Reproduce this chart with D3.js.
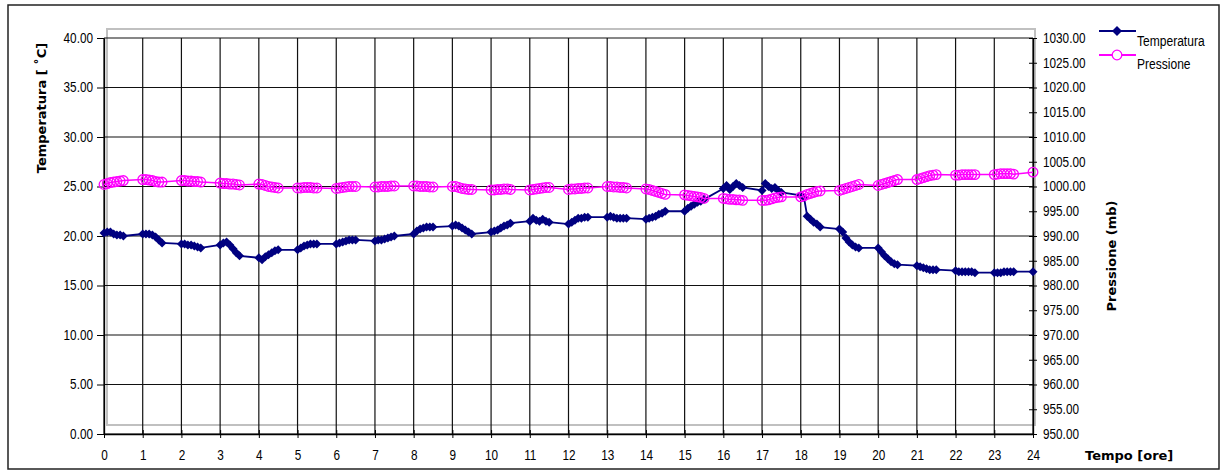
<!DOCTYPE html>
<html>
<head>
<meta charset="utf-8">
<script src="https://cdn.jsdelivr.net/npm/d3@7"></script>
<style>
  html, body { margin: 0; padding: 0; background: #fff; }
  svg { display: block; }
  .tick text { font-family: "Liberation Sans", Arial, sans-serif; font-size: 14px; fill: #000; }
  .legend text { font-family: "Liberation Sans", Arial, sans-serif; font-size: 14px; fill: #000; }
  .title { font-family: "DejaVu Sans", Verdana, sans-serif; font-weight: bold; font-size: 13px; fill: #000; }
</style>
</head>
<body>
<svg id="chart" width="1223" height="476"></svg>
<script>
// ---------------- DATA ----------------
const hourTicks = [0,1,2,3,4,5,6,7,8,9,10,11,12,13,14,15,16,17,18,19,20,21,22,23,24];
const tempTicks = [0,5,10,15,20,25,30,35,40];
const pressTicks = [950,955,960,965,970,975,980,985,990,995,1000,1005,1010,1015,1020,1025,1030];
// sampling minutes inside each hourly block
const sampleMinutes = [0,5,10,15,20,25,30];

// Temperatura [°C], one block per hour (last block = hour 24)
const temperatura = [
  [20.3,20.4,20.4,20.2,20.1,20.1,20.0],
  [20.2,20.2,20.2,20.1,19.9,19.6,19.3],
  [19.2,19.2,19.1,19.1,19.0,18.9,18.8],
  [19.1,19.3,19.4,19.1,18.7,18.3,18.0],
  [17.8,17.6,17.9,18.1,18.3,18.5,18.6],
  [18.6,18.8,19.0,19.1,19.2,19.2,19.2],
  [19.2,19.3,19.4,19.5,19.6,19.6,19.6],
  [19.5,19.6,19.6,19.7,19.8,19.9,20.0],
  [20.2,20.5,20.7,20.8,20.9,20.9,20.9],
  [21.0,21.1,21.0,20.8,20.6,20.4,20.2],
  [20.4,20.5,20.6,20.8,21.0,21.1,21.3],
  [21.5,21.8,21.6,21.5,21.7,21.5,21.4],
  [21.2,21.4,21.6,21.8,21.8,21.9,21.9],
  [21.9,22.0,21.9,21.8,21.8,21.8,21.8],
  [21.7,21.8,21.9,22.0,22.2,22.3,22.5],
  [22.5,22.8,23.0,23.2,23.4,23.5,23.7],
  [24.8,25.1,24.7,25.0,25.3,25.1,24.9],
  [24.6,25.3,25.0,24.8,24.9,24.6,24.4],
  [24.1,23.9,22.0,21.7,21.4,21.2,20.9],
  [20.7,20.4,19.8,19.4,19.1,18.9,18.8],
  [18.8,18.4,18.0,17.7,17.4,17.2,17.1],
  [17.0,16.9,16.8,16.7,16.6,16.6,16.6],
  [16.5,16.4,16.4,16.4,16.4,16.4,16.3],
  [16.3,16.3,16.3,16.4,16.4,16.4,16.4],
  [16.4]
];

// Pressione [mb], one block per hour (last block = hour 24)
const pressione = [
  [1000.4,1000.6,1000.8,1000.9,1001.0,1001.1,1001.2],
  [1001.4,1001.4,1001.3,1001.2,1001.0,1000.9,1000.9],
  [1001.2,1001.2,1001.1,1001.1,1001.0,1001.0,1000.9],
  [1000.7,1000.6,1000.6,1000.5,1000.5,1000.4,1000.3],
  [1000.5,1000.4,1000.2,1000.0,999.9,999.8,999.7],
  [999.7,999.7,999.8,999.8,999.8,999.7,999.7],
  [999.6,999.7,999.8,999.9,1000.0,1000.0,1000.0],
  [999.9,999.9,1000.0,1000.0,1000.0,1000.1,1000.1],
  [1000.1,1000.1,1000.0,1000.0,1000.0,999.9,999.9],
  [1000.0,1000.0,999.8,999.6,999.5,999.4,999.4],
  [999.3,999.3,999.4,999.4,999.5,999.5,999.4],
  [999.3,999.4,999.5,999.6,999.7,999.8,999.8],
  [999.4,999.5,999.5,999.6,999.6,999.7,999.7],
  [1000.0,1000.0,999.9,999.9,999.8,999.8,999.7],
  [999.5,999.4,999.2,999.0,998.8,998.6,998.4],
  [998.3,998.2,998.1,998.0,997.9,997.8,997.6],
  [997.6,997.5,997.4,997.4,997.3,997.3,997.2],
  [997.2,997.2,997.3,997.5,997.7,997.8,997.9],
  [997.9,998.1,998.4,998.6,998.8,999.0,999.1],
  [999.2,999.4,999.6,999.8,1000.0,1000.2,1000.4],
  [1000.2,1000.4,1000.6,1000.8,1001.0,1001.2,1001.4],
  [1001.4,1001.6,1001.8,1002.0,1002.2,1002.3,1002.4],
  [1002.3,1002.3,1002.4,1002.4,1002.4,1002.4,1002.4],
  [1002.4,1002.5,1002.6,1002.6,1002.6,1002.6,1002.5],
  [1002.9]
];

// ---------------- BUILD ----------------
function flatten(blocks) {
  const out = [];
  blocks.forEach((blk, h) => blk.forEach((v, i) => out.push({ t: hourTicks[h] + sampleMinutes[i] / 60, v })));
  return out;
}
const tempData = flatten(temperatura);
const pressData = flatten(pressione);

const svg = d3.select("#chart");
const x = d3.scaleLinear().domain([0, 24]).range([104, 1033]);
const yT = d3.scaleLinear().domain([0, 40]).range([434, 38]);
const yP = d3.scaleLinear().domain([950, 1030]).range([434, 38]);

// condense text (narrow-font look)
function condense(sel, k) {
  sel.each(function () {
    const w = this.getComputedTextLength();
    d3.select(this).attr("textLength", w * k).attr("lengthAdjust", "spacingAndGlyphs");
  });
}

// outer frame
svg.append("rect").attr("x", 8).attr("y", 5).attr("width", 1211).attr("height", 464)
  .attr("fill", "#fff").attr("stroke", "#222").attr("stroke-width", 1.5);

// plot-area frame (light grey)
svg.append("rect").attr("x", 107).attr("y", 29).attr("width", 928).attr("height", 396)
  .attr("fill", "none").attr("stroke", "#c0c0c0").attr("stroke-width", 2);

// gridlines
const grid = svg.append("g");
grid.selectAll("line.h").data(tempTicks).join("line")
  .attr("x1", x(0)).attr("x2", x(24)).attr("y1", d => yT(d)).attr("y2", d => yT(d))
  .attr("stroke", "#111").attr("stroke-width", 1.2);
grid.selectAll("line.v").data(hourTicks).join("line")
  .attr("x1", d => x(d)).attr("x2", d => x(d)).attr("y1", yT(0)).attr("y2", yT(40))
  .attr("stroke", "#111").attr("stroke-width", 1.2);

// axes
const fmt = d3.format(".2f");
const gL = svg.append("g").attr("transform", `translate(${x(0)},0)`)
  .call(d3.axisLeft(yT).tickValues(tempTicks).tickFormat(fmt).tickSizeOuter(0).tickSizeInner(7).tickPadding(4));
const gR = svg.append("g").attr("transform", `translate(${x(24)},0)`)
  .call(d3.axisRight(yP).tickValues(pressTicks).tickFormat(fmt).tickSizeOuter(0).tickSizeInner(4).tickPadding(6));
gR.selectAll(".tick line").attr("x1", -4).attr("x2", 4);
const gB = svg.append("g").attr("transform", `translate(0,${yT(0)})`)
  .call(d3.axisBottom(x).tickValues(hourTicks).tickFormat(d3.format("d")).tickSizeOuter(0).tickSizeInner(4).tickPadding(12));
gB.selectAll(".tick line").attr("y1", -4).attr("y2", 4);
[gL, gR, gB].forEach(g => {
  g.select(".domain").attr("stroke", "#000").attr("stroke-width", 1.3);
  g.selectAll(".tick line").attr("stroke", "#000");
  condense(g.selectAll(".tick text"), 0.84);
});

// axis titles
svg.append("text").attr("class", "title")
  .attr("transform", `translate(46,108) rotate(-90)`).attr("text-anchor", "middle")
  .text("Temperatura  [ ˚C]");
svg.append("text").attr("class", "title")
  .attr("transform", `translate(1116,256) rotate(-90)`).attr("text-anchor", "middle")
  .text("Pressione (mb)");
svg.append("text").attr("class", "title")
  .attr("x", 1085).attr("y", 460).text("Tempo [ore]");

// series
const diamond = r => `M0,${-r}L${r},0L0,${r}L${-r},0Z`;
const navy = "#000080", magenta = "#ff00ff";

const lineT = d3.line().x(d => x(d.t)).y(d => yT(d.v));
const lineP = d3.line().x(d => x(d.t)).y(d => yP(d.v));

svg.append("path").datum(tempData).attr("d", lineT)
  .attr("fill", "none").attr("stroke", navy).attr("stroke-width", 1.8);
svg.append("g").selectAll("path").data(tempData).join("path")
  .attr("transform", d => `translate(${x(d.t)},${yT(d.v)})`)
  .attr("d", diamond(4.5)).attr("fill", navy);

svg.append("path").datum(pressData).attr("d", lineP)
  .attr("fill", "none").attr("stroke", magenta).attr("stroke-width", 1.5);
svg.append("g").selectAll("circle").data(pressData).join("circle")
  .attr("cx", d => x(d.t)).attr("cy", d => yP(d.v)).attr("r", 4.8)
  .attr("fill", "none").attr("stroke", magenta).attr("stroke-width", 1.3);

// legend
const legend = svg.append("g").attr("class", "legend");
const items = [
  { name: "Temperatura", color: navy, type: "d", ly: 31, ty: 46 },
  { name: "Pressione", color: magenta, type: "c", ly: 55, ty: 69 }
];
items.forEach(it => {
  legend.append("line").attr("x1", 1099).attr("x2", 1136).attr("y1", it.ly).attr("y2", it.ly)
    .attr("stroke", it.color).attr("stroke-width", 1.8);
  if (it.type === "d") {
    legend.append("path").attr("transform", `translate(1117,${it.ly})`).attr("d", diamond(5)).attr("fill", it.color);
  } else {
    legend.append("circle").attr("cx", 1117).attr("cy", it.ly).attr("r", 4.8)
      .attr("fill", "#fff").attr("stroke", it.color).attr("stroke-width", 1.3);
  }
  legend.append("text").attr("x", 1137).attr("y", it.ty).text(it.name);
});
condense(legend.selectAll("text"), 0.86);
</script>
</body>
</html>
